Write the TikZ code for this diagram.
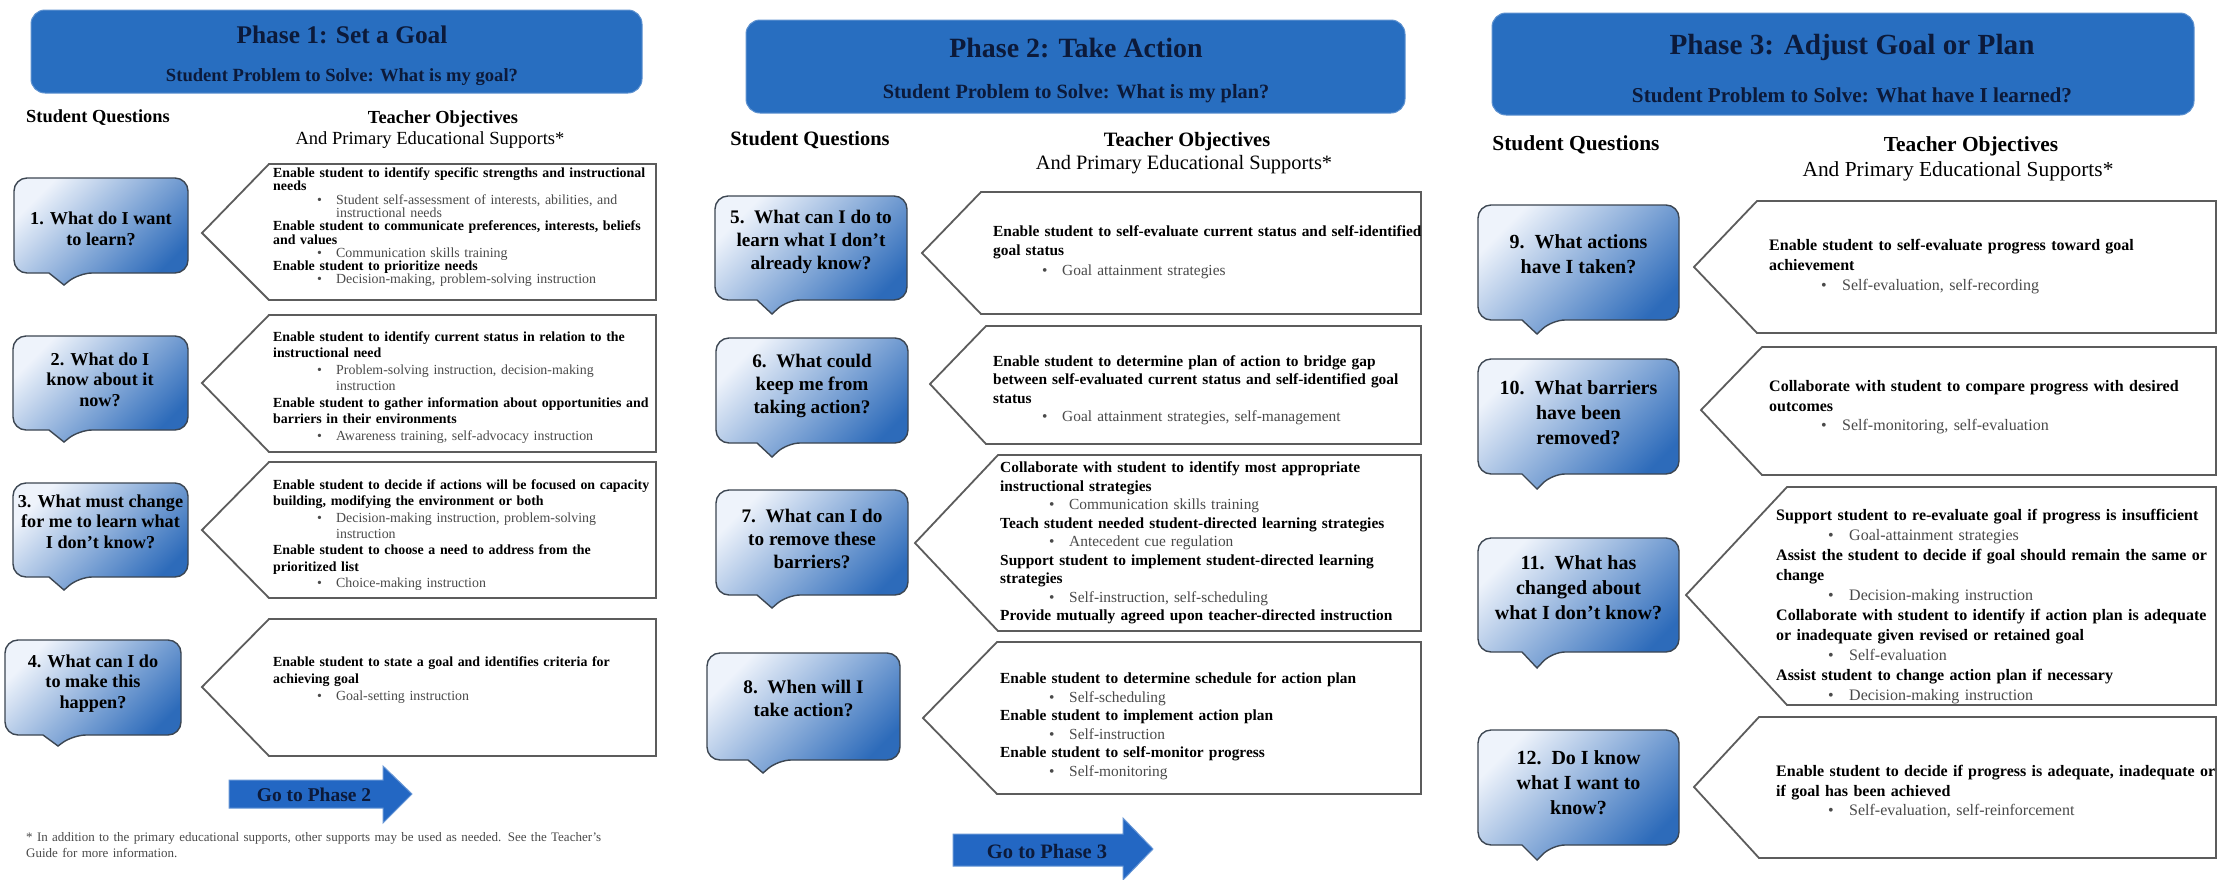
\documentclass[tikz,border=0pt]{standalone}
\usepackage{fontspec}
\setmainfont{Liberation Serif}

\definecolor{hdrblue}{HTML}{286EC0}
\definecolor{inkblue}{HTML}{0C1A3A}
\definecolor{calllight}{HTML}{EEF3FB}
\definecolor{calldark}{HTML}{2D6BBA}
\definecolor{callline}{HTML}{3C4652}
\definecolor{boxline}{HTML}{5C5C5C}
\definecolor{supgray}{HTML}{4A4A4A}
\definecolor{arrowblue}{HTML}{2367C3}

% bullet lines of the supports lists
\newlength\bulind
\newlength\bulgap
\newcommand\bitem[1]{\hspace*{\bulind}\makebox[\bulgap][l]{\mdseries\color{supgray}\textbullet}{\mdseries\color{supgray}#1}}
\newcommand\bcont[1]{\hspace*{\bulind}\hspace*{\bulgap}{\mdseries\color{supgray}#1}}

% speech-bubble question box: x1,y1,x2,y2,tip x,tip y
\newcommand\qcallout[6]{%
  \path[callshape] (#1,{(#2+#4)/2}) [rounded corners=13pt] -- (#1,#2) -- (#3,#2) -- (#3,#4)
    -- ({#5+15},#4) [sharp corners] -- (#5,#6) -- ({#5-15},#4) [rounded corners=13pt] -- (#1,#4) -- cycle;}
% pointed objectives box: tip x,tip y,left x,right x,top,bottom
\newcommand\tobox[6]{%
  \path[objshape] (#1,#2) -- (#3,#5) -- (#4,#5) -- (#4,#6) -- (#3,#6) -- cycle;}

\tikzset{
  hdr/.style={fill=hdrblue, draw=hdrblue!75!white, line width=1pt, rounded corners=14pt},
  ttl/.style={text=inkblue, inner sep=0pt},
  colh/.style={text=black, inner sep=0pt},
  callshape/.style={draw=callline, line width=1.4pt, top color=calllight, bottom color=calldark, shading angle=45},
  objshape/.style={draw=boxline, line width=1.8pt, fill=white},
  qtxt/.style={align=center, inner sep=0pt, text=black},
  qa/.style={qtxt, font=\fontsize{18.2}{20.5}\selectfont\bfseries},
  qb/.style={qtxt, font=\fontsize{19.2}{23}\selectfont\bfseries},
  qc/.style={qtxt, font=\fontsize{20}{25}\selectfont\bfseries},
  objtxt/.style={anchor=base west, inner sep=0pt, align=left, text width=470pt, text=black},
  ba/.style={objtxt, font=\fontsize{13.9}{#1}\selectfont\bfseries,
    execute at begin node={\setlength\bulind{44pt}\setlength\bulgap{19pt}}},
  bb/.style={objtxt, font=\fontsize{15.4}{#1}\selectfont\bfseries,
    execute at begin node={\setlength\bulind{49pt}\setlength\bulgap{20pt}}},
  bc/.style={objtxt, font=\fontsize{16}{#1}\selectfont\bfseries,
    execute at begin node={\setlength\bulind{52pt}\setlength\bulgap{21pt}}},
  goarrow/.style={fill=arrowblue, draw=arrowblue!70!white, line width=1pt},
  gotext/.style={text=inkblue, inner sep=0pt},
  note/.style={anchor=base west, inner sep=0pt, align=left, text width=660pt, text=supgray,
    font=\fontsize{13}{16}\selectfont}
}

\begin{document}
\begin{tikzpicture}[x=1pt,y=-1pt]
\useasboundingbox (0,0) rectangle (2228,879);
\fill[white] (0,0) rectangle (2228,879);

% ---------------- Phase 1 ----------------
\path[hdr] (31,10) rectangle (642,93);
\node[ttl, font=\fontsize{25.4}{30}\selectfont\bfseries] (h1) at (342,35) {Phase 1: Set a Goal};
\node[ttl, font=\fontsize{18.6}{22}\selectfont\bfseries] (h1s) at (342,77) {Student Problem to Solve: What is my goal?};

\node[colh, font=\fontsize{18.4}{22}\selectfont\bfseries] (sq1) at (98,118) {Student Questions};
\node[colh, font=\fontsize{18.4}{22}\selectfont\bfseries] (to1) at (443,119) {Teacher Objectives};
\node[colh, font=\fontsize{18.5}{22}\selectfont] (es1) at (430,140) {And Primary Educational Supports*};

\qcallout{14}{178}{188}{273}{64}{285}
\node[qa] (q1) at (101,229) {1. What do I want\\to learn?};
\qcallout{13}{336}{188}{430}{64}{442}
\node[qa] (q2) at (100,379.5) {2. What do I\\know about it\\now?};
\qcallout{13}{483}{188}{577}{64}{590}
\node[qa] (q3) at (100.5,521.5) {3. What must change\\for me to learn what\\I don’t know?};
\qcallout{5}{640}{181}{735}{58}{746}
\node[qa] (q4) at (93,683.5) {4. What can I do\\to make this\\happen?};

\tobox{202}{233}{269}{656}{164}{300}
\node[ba=13.3] (o1) at (273,177.5) {Enable student to identify specific strengths and instructional\\
needs\\
\bitem{Student self-assessment of interests, abilities, and}\\
\bcont{instructional needs}\\
Enable student to communicate preferences, interests, beliefs\\
and values\\
\bitem{Communication skills training}\\
Enable student to prioritize needs\\
\bitem{Decision-making, problem-solving instruction}};

\tobox{202}{383}{269}{656}{315}{452}
\node[ba=16.5] (o2) at (273,341.2) {Enable student to identify current status in relation to the\\
instructional need\\
\bitem{Problem-solving instruction, decision-making}\\
\bcont{instruction}\\
Enable student to gather information about opportunities and\\
barriers in their environments\\
\bitem{Awareness training, self-advocacy instruction}};

\tobox{202}{530}{269}{656}{462}{598}
\node[ba=16.4] (o3) at (273,489.2) {Enable student to decide if actions will be focused on capacity\\
building, modifying the environment or both\\
\bitem{Decision-making instruction, problem-solving}\\
\bcont{instruction}\\
Enable student to choose a need to address from the\\
prioritized list\\
\bitem{Choice-making instruction}};

\tobox{202}{687}{269}{656}{619}{756}
\node[ba=17] (o4) at (273,666.2) {Enable student to state a goal and identifies criteria for\\
achieving goal\\
\bitem{Goal-setting instruction}};

\path[goarrow] (229,780) -- (383,780) -- (383,766) -- (412,794) -- (383,823) -- (383,808) -- (229,808) -- cycle;
\node[gotext, font=\fontsize{19.5}{23}\selectfont\bfseries] (go2) at (314,795) {Go to Phase 2};

\node[note] (fn) at (26,841) {* In addition to the primary educational supports, other supports may be used as needed. See the Teacher’s\\
Guide for more information.};

% ---------------- Phase 2 ----------------
\path[hdr] (746,20) rectangle (1405,113);
\node[ttl, font=\fontsize{27.9}{32}\selectfont\bfseries] (h2) at (1076,48) {Phase 2: Take Action};
\node[ttl, font=\fontsize{20.3}{24}\selectfont\bfseries] (h2s) at (1076,94) {Student Problem to Solve: What is my plan?};

\node[colh, font=\fontsize{20.4}{24}\selectfont\bfseries] (sq2) at (810,140) {Student Questions};
\node[colh, font=\fontsize{20.4}{24}\selectfont\bfseries] (to2) at (1187,141.5) {Teacher Objectives};
\node[colh, font=\fontsize{20.4}{24}\selectfont] (es2) at (1184,165) {And Primary Educational Supports*};

\qcallout{715}{196}{907}{300}{772}{314}
\node[qb] (q5) at (811,242) {5.\ \ What can I do to\\learn what I don’t\\already know?};
\qcallout{716}{338}{908}{443}{772}{457}
\node[qb] (q6) at (812,385.5) {6.\ \ What could\\keep me from\\taking action?};
\qcallout{716}{490}{908}{595}{772}{608}
\node[qb] (q7) at (812,538.5) {7.\ \ What can I do\\to remove these\\barriers?};
\qcallout{707}{653}{900}{760}{763}{773}
\node[qb] (q8) at (803.5,698.5) {8.\ \ When will I\\take action?};

\tobox{922}{253}{981}{1421}{192}{314}
\node[bb=19.3] (o5) at (993,236.5) {Enable student to self-evaluate current status and self-identified\\
goal status\\
\bitem{Goal attainment strategies}};

\tobox{930}{384}{986}{1421}{326}{444}
\node[bb=18.3] (o6) at (993,366.5) {Enable student to determine plan of action to bridge gap\\
between self-evaluated current status and self-identified goal\\
status\\
\bitem{Goal attainment strategies, self-management}};

\tobox{915}{543}{998}{1421}{455}{631}
\node[bb=18.5] (o7) at (1000,472.5) {Collaborate with student to identify most appropriate\\
instructional strategies\\
\bitem{Communication skills training}\\
Teach student needed student-directed learning strategies\\
\bitem{Antecedent cue regulation}\\
Support student to implement student-directed learning\\
strategies\\
\bitem{Self-instruction, self-scheduling}\\
Provide mutually agreed upon teacher-directed instruction};

\tobox{923}{718}{997}{1421}{642}{794}
\node[bb=18.6] (o8) at (1000,683.5) {Enable student to determine schedule for action plan\\
\bitem{Self-scheduling}\\
Enable student to implement action plan\\
\bitem{Self-instruction}\\
Enable student to self-monitor progress\\
\bitem{Self-monitoring}};

\path[goarrow] (953,834) -- (1123,834) -- (1123,818) -- (1153,849) -- (1123,880) -- (1123,866) -- (953,866) -- cycle;
\node[gotext, font=\fontsize{20.5}{24}\selectfont\bfseries] (go3) at (1047,851) {Go to Phase 3};

% ---------------- Phase 3 ----------------
\path[hdr] (1492,13) rectangle (2194,115);
\node[ttl, font=\fontsize{29.2}{34}\selectfont\bfseries] (h3) at (1852,47) {Phase 3: Adjust Goal or Plan};
\node[ttl, font=\fontsize{21.2}{25}\selectfont\bfseries] (h3s) at (1852,95) {Student Problem to Solve: What have I learned?};

\node[colh, font=\fontsize{21.4}{25}\selectfont\bfseries] (sq3) at (1576,144.5) {Student Questions};
\node[colh, font=\fontsize{21.4}{25}\selectfont\bfseries] (to3) at (1971,146.5) {Teacher Objectives};
\node[colh, font=\fontsize{21.4}{25}\selectfont] (es3) at (1958,171) {And Primary Educational Supports*};

\qcallout{1478}{205}{1679}{320}{1537}{334}
\node[qc] (q9) at (1578.5,254.5) {9.\ \ What actions\\have I taken?};
\qcallout{1478}{359}{1679}{474}{1537}{489}
\node[qc] (q10) at (1578.5,412.5) {10.\ \ What barriers\\have been\\removed?};
\qcallout{1478}{538}{1679}{652}{1537}{668}
\node[qc] (q11) at (1578.5,587.5) {11.\ \ What has\\changed about\\what I don’t know?};
\qcallout{1478}{730}{1679}{845}{1537}{860}
\node[qc] (q12) at (1578.5,783) {12.\ \ Do I know\\what I want to\\know?};

\tobox{1694}{267}{1757}{2216}{201}{333}
\node[bc=20] (o9) at (1769,250.7) {Enable student to self-evaluate progress toward goal\\
achievement\\
\bitem{Self-evaluation, self-recording}};

\tobox{1701}{410}{1762}{2216}{347}{475}
\node[bc=19.5] (o10) at (1769,391.7) {Collaborate with student to compare progress with desired\\
outcomes\\
\bitem{Self-monitoring, self-evaluation}};

\tobox{1686}{595}{1787}{2216}{487}{705}
\node[bc=20] (o11) at (1776,520.7) {Support student to re-evaluate goal if progress is insufficient\\
\bitem{Goal-attainment strategies}\\
Assist the student to decide if goal should remain the same or\\
change\\
\bitem{Decision-making instruction}\\
Collaborate with student to identify if action plan is adequate\\
or inadequate given revised or retained goal\\
\bitem{Self-evaluation}\\
Assist student to change action plan if necessary\\
\bitem{Decision-making instruction}};

\tobox{1694}{787}{1759}{2216}{717}{858}
\node[bc=19.5] (o12) at (1776,776.7) {Enable student to decide if progress is adequate, inadequate or\\
if goal has been achieved\\
\bitem{Self-evaluation, self-reinforcement}};
\end{tikzpicture}
\end{document}
